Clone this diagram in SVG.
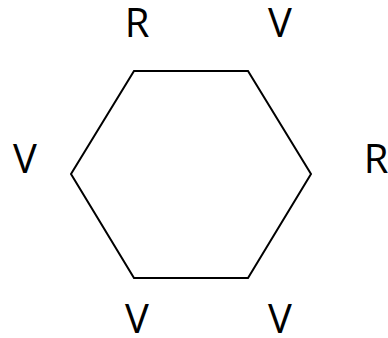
<svg xmlns="http://www.w3.org/2000/svg" width="388" height="338" viewBox="0 0 388 338">
<style>
.lbl{font-family:"Open Sans","Liberation Sans",sans-serif;font-size:40px;fill:#000;text-anchor:middle}
.edge{fill:none;stroke:#000;stroke-width:2}
</style>
<rect width="388" height="338" fill="#fff"/>
<g id="connectors">
<polygon class="edge" points="134,71 248,71 311,174 248,278 134,278 71,174"/>
</g>
<g id="n1"><text class="lbl" x="137" y="37">R</text></g>
<g id="n2"><text class="lbl" x="280" y="37">V</text></g>
<g id="n3"><text class="lbl" x="25" y="173">V</text></g>
<g id="n4"><text class="lbl" x="376" y="173">R</text></g>
<g id="n5"><text class="lbl" x="137" y="333">V</text></g>
<g id="n6"><text class="lbl" x="280" y="333">V</text></g>
</svg>
